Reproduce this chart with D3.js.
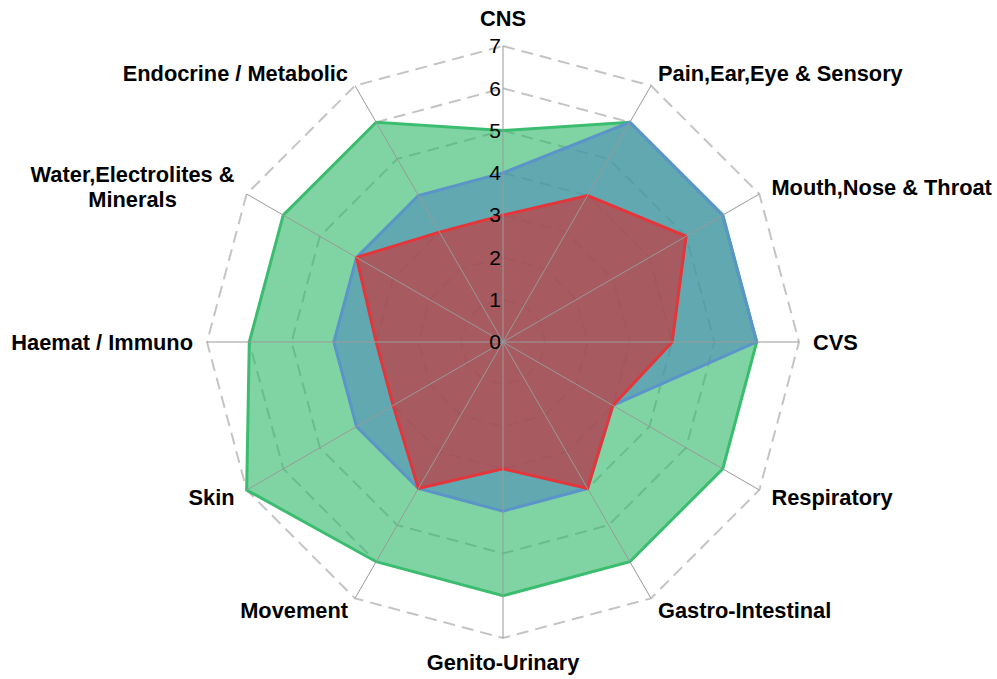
<!DOCTYPE html>
<html><head><meta charset="utf-8">
<script src="https://cdn.jsdelivr.net/npm/d3@7"></script>
<style>body{margin:0;background:#fff;}svg{display:block;}</style>
</head><body>
<svg id="chart" width="997" height="679"></svg>
<script>
const categories = ["CNS","Pain,Ear,Eye & Sensory","Mouth,Nose & Throat","CVS","Respiratory","Gastro-Intestinal","Genito-Urinary","Movement","Skin","Haemat / Immuno","Water,Electrolites & Minerals","Endocrine / Metabolic"];
const seriesGreen = [5,6,6,6,6,6,6,6,7,6,6,6];
const seriesBlue  = [4,6,6,6,3,4,4,4,4,4,4,4];
const seriesRed   = [3,4,5,4,3,4,3,4,3,3,4,3];
const tickValues = [0,1,2,3,4,5,6,7];

const series = [
  {values: seriesGreen, fill: "#2cb866", stroke: "#3bbd70"},
  {values: seriesBlue,  fill: "#4e8bbb", stroke: "#5b94c8"},
  {values: seriesRed,   fill: "#d6282c", stroke: "#e3363b"}
];

const svg = d3.select("#chart");
const cx = 503, cy = 342, R = 296;
const rScale = d3.scaleLinear().domain([0,7]).range([0,R]);
const n = categories.length;
const angle = d3.scaleLinear().domain([0,n]).range([0,2*Math.PI]);
const pt = (i,v) => [cx + rScale(v)*Math.sin(angle(i)), cy - rScale(v)*Math.cos(angle(i))];
const g = svg.append("g");
const FONT = "Liberation Sans, Arial, sans-serif";

// dashed grid polygons
tickValues.filter(t=>t>0).forEach(t=>{
  g.append("path")
    .attr("d", d3.line()(d3.range(n).map(i=>pt(i,t))) + "Z")
    .attr("fill","none").attr("stroke","#c4c4c4").attr("stroke-width",2)
    .attr("stroke-dasharray","12,7");
});

// series
series.forEach(s=>{
  g.append("path")
    .attr("d", d3.line()(s.values.map((v,i)=>pt(i,v))) + "Z")
    .attr("fill", s.fill).attr("fill-opacity",0.6)
    .attr("stroke", s.stroke).attr("stroke-width",3).attr("stroke-linejoin","miter");
});

// spokes
d3.range(n).forEach(i=>{
  const p = pt(i,7);
  g.append("line").attr("x1",cx).attr("y1",cy).attr("x2",p[0]).attr("y2",p[1])
    .attr("stroke","#999").attr("stroke-width",1);
});

// tick labels
tickValues.forEach(t=>{
  g.append("text").attr("x",cx-2).attr("y",cy-rScale(t)).attr("dy","0.35em")
    .attr("text-anchor","end").attr("font-family",FONT)
    .attr("font-size",21).attr("fill","#000").text(t);
});

// category labels
const LR = 310;
categories.forEach((c,i)=>{
  const a = angle(i);
  const x = cx + LR*Math.sin(a), y = cy - LR*Math.cos(a);
  const sx = Math.sin(a), cyv = Math.cos(a);
  let anchor = Math.abs(sx) < 0.01 ? "middle" : (sx > 0 ? "start" : "end");
  let lines = c === "Water,Electrolites & Minerals" ? ["Water,Electrolites &","Minerals"] : [c];
  const t = g.append("text").attr("font-family",FONT)
    .attr("font-size",21.8).attr("font-weight","bold").attr("fill","#000");
  let yy = y;
  if (Math.abs(sx) < 0.01) yy = cyv > 0 ? y - 14 : y + 10;
  if (lines.length === 1) {
    t.attr("x",x).attr("y",yy).attr("dy","0.35em").attr("text-anchor",anchor).text(c);
  } else {
    const ts = lines.map((l,k)=>t.append("tspan").attr("y", yy + (k - (lines.length-1)/2)*25).attr("dy","0.35em").text(l));
    const w = d3.max(ts.map(s=>s.node().getComputedTextLength()));
    const mid = anchor === "end" ? x - w/2 : x + w/2;
    ts.forEach(s=>s.attr("x",mid));
    t.attr("text-anchor","middle");
  }
});
</script>
</body></html>
